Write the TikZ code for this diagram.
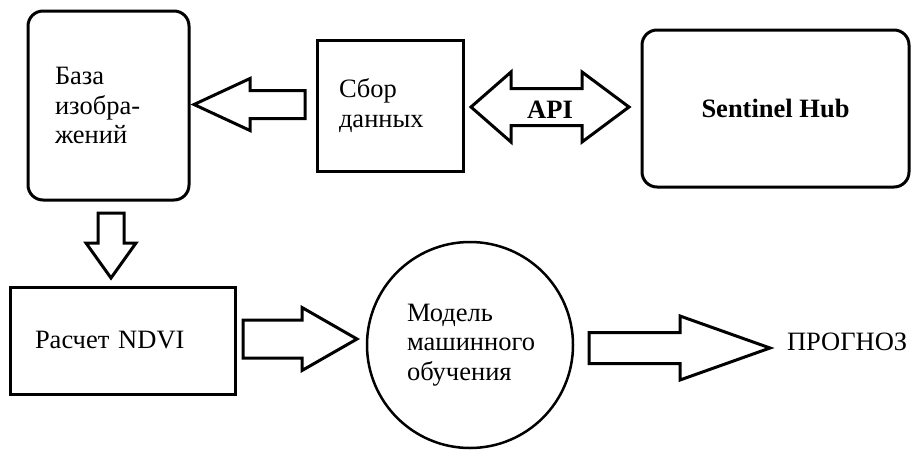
\documentclass[tikz,border=0pt]{standalone}
\usepackage{fontspec}
\setmainfont{Liberation Serif}
\usetikzlibrary{shapes.geometric,calc}
\newcommand\dfont{\fontsize{26.5}{29.5}\selectfont}
\tikzset{
  box/.style={draw, line width=3pt, inner sep=0pt, outer sep=0pt, font=\dfont},
  rbox/.style={box, rounded corners=15pt},
  barrow/.style={draw, line width=3pt, line join=miter, fill=white},
}
% start, tip, shaft half width, head half width, head length
\newcommand\blockarrow[5]{%
  \coordinate (ba-h) at ($(#2)!#5!(#1)$);
  \draw[barrow] ($(#1)!#3!90:(#2)$) -- ($(ba-h)!#3!90:(#2)$) -- ($(ba-h)!#4!90:(#2)$)
    -- (#2) -- ($(ba-h)!#4!-90:(#2)$) -- ($(ba-h)!#3!-90:(#2)$) -- ($(#1)!#3!-90:(#2)$) -- cycle;
}
% tip1, tip2, shaft half, head half, head length 1, head length 2
\newcommand\dblarrow[6]{%
  \coordinate (da-h1) at ($(#1)!#5!(#2)$);
  \coordinate (da-h2) at ($(#2)!#6!(#1)$);
  \draw[barrow] (#1) -- ($(da-h1)!#4!90:(#2)$) -- ($(da-h1)!#3!90:(#2)$)
    -- ($(da-h2)!#3!-90:(#1)$) -- ($(da-h2)!#4!-90:(#1)$) -- (#2)
    -- ($(da-h2)!#4!90:(#1)$) -- ($(da-h2)!#3!90:(#1)$)
    -- ($(da-h1)!#3!-90:(#2)$) -- ($(da-h1)!#4!-90:(#2)$) -- cycle;
}
\begin{document}
\begin{tikzpicture}[x=1pt,y=-1pt]
\path[use as bounding box, fill=white] (0,0) rectangle (912,450);

\node[rbox, minimum width=161pt, minimum height=189pt, text width=107pt, align=left] (baza) at (108.5,105.5) {База\\изобра-\\жений};
\node[box, minimum width=146pt, minimum height=131pt, text width=102pt, align=left] (sbor) at (390,105.5) {Сбор\\данных};
\node[rbox, minimum width=267pt, minimum height=157pt, font=\dfont\bfseries] (hub) at (775.5,108.5) {Sentinel Hub};
\node[box, minimum width=225pt, minimum height=107pt, text width=175pt, align=left] (ndvi) at (122.5,340.5) {Расчет NDVI};
\node[draw, circle, line width=2.5pt, minimum size=206pt, inner sep=0pt, outer sep=0pt, text width=126pt, align=left, font=\dfont] (model) at (470,345) {Модель\\машинного\\обучения};
\node[font=\dfont, anchor=base west, inner sep=0pt, outer sep=0pt] (prog) at (787,350) {ПРОГНОЗ};

\coordinate (a1s) at ($(sbor.west)+(-12,-1)$);
\coordinate (a1t) at ($(baza.east)+(5,-1)$);
\blockarrow{a1s}{a1t}{14pt}{26pt}{56pt}

\coordinate (a2s) at ($(baza.south)+(2.5,13)$);
\coordinate (a2t) at ($(ndvi.north)+(-11.5,-9)$);
\blockarrow{a2s}{a2t}{13pt}{25pt}{35pt}

\coordinate (a3s) at ($(ndvi.east)+(8,-1.5)$);
\coordinate (a3t) at ($(model.west)+(-10,-6)$);
\blockarrow{a3s}{a3t}{19pt}{31.5pt}{55pt}

\coordinate (a4s) at ($(model.east)+(16,3)$);
\coordinate (a4t) at ($(prog.base west)+(-17,-2)$);
\blockarrow{a4s}{a4t}{15.5pt}{32pt}{90pt}

\coordinate (d1) at ($(sbor.east)+(8,1.5)$);
\coordinate (d2) at ($(hub.west)+(-13,-1.5)$);
\dblarrow{d1}{d2}{18.5pt}{35pt}{40pt}{47pt}
\node[font=\dfont\bfseries, anchor=base, inner sep=0pt] (api) at ($(d1)!0.5!(d2)+(0,11)$) {API};
\end{tikzpicture}
\end{document}
